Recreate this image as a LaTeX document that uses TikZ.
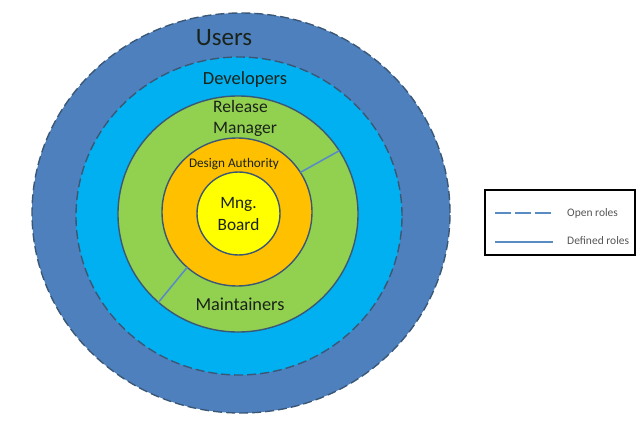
\documentclass[tikz,border=0pt]{standalone}
\usepackage{fontspec}
\setmainfont{Carlito}
\usetikzlibrary{shapes.geometric}
\definecolor{usersblue}{HTML}{4F80BE}
\definecolor{devcyan}{HTML}{00B0F0}
\definecolor{rmgreen}{HTML}{92D050}
\definecolor{daorange}{HTML}{FFC000}
\definecolor{mbyellow}{HTML}{FFFF00}
\definecolor{ringedge}{HTML}{3A5876}
\definecolor{roleline}{HTML}{5A8CC4}
\definecolor{txt}{HTML}{1A231A}
\definecolor{legtxt}{HTML}{555555}
\tikzset{
  ring/.style={ellipse, draw=ringedge, line width=1.4pt, inner sep=0pt, outer sep=0pt},
  dashring/.style={ring, dash pattern=on 9pt off 4pt},
  lbl/.style={text=txt, inner sep=0pt, font=#1},
  roleln/.style={draw=roleline, line width=1.6pt},
  legtext/.style={text=legtxt, inner sep=0pt, anchor=west, font=\fontsize{11.5}{13}\selectfont},
}
\begin{document}
\begin{tikzpicture}[x=1pt,y=-1pt]
\useasboundingbox (0,0) rectangle (640,422);
\node[dashring, fill=usersblue, minimum width=418pt, minimum height=400pt] (users) at (241,213) {};
\node[dashring, fill=devcyan, minimum width=326pt, minimum height=318pt] (dev) at (239,216) {};
\node[ring, fill=rmgreen, minimum width=240pt, minimum height=236pt] (rm) at (238,214) {};
\node[ring, fill=daorange, minimum width=150pt, minimum height=148pt] (da) at (237,212) {};
\node[ring, fill=mbyellow, minimum width=83pt, minimum height=83pt] (mb) at (238.5,213.5) {};
\draw[roleln] (da.32) -- (rm.32);
\draw[roleln] (da.228) -- (rm.228);
\node[lbl={\fontsize{25}{28}\selectfont}] (tusers) at (224,38) {Users};
\node[lbl={\fontsize{18.5}{21}\selectfont}] (tdev) at (245,80) {Developers};
\node[lbl={\fontsize{17.5}{21}\selectfont}, align=left, anchor=west] (trm) at (213,118) {Release\\Manager};
\node[lbl={\fontsize{13.2}{15}\selectfont}] (tda) at (234,164) {Design Authority};
\node[lbl={\fontsize{17.3}{21.5}\selectfont}, align=center] (tmb) at (238.5,214) {Mng.\\Board};
\node[lbl={\fontsize{18.3}{21}\selectfont}] (tmt) at (240,304) {Maintainers};
% legend
\node[draw=black, line width=1.6pt, minimum width=150pt, minimum height=65pt, inner sep=0pt] (legend) at (560,222.5) {};
\coordinate (o1) at (495,213);
\coordinate (o2) at (552,213);
\coordinate (d1) at (495,242);
\coordinate (d2) at (553,242);
\draw[roleln, dash pattern=on 16pt off 4pt] (o1) -- (o2);
\draw[roleln] (d1) -- (d2);
\node[legtext] (lopen) at (567,213) {Open roles};
\node[legtext] (ldef) at (567,241) {Defined roles};
\end{tikzpicture}
\end{document}
